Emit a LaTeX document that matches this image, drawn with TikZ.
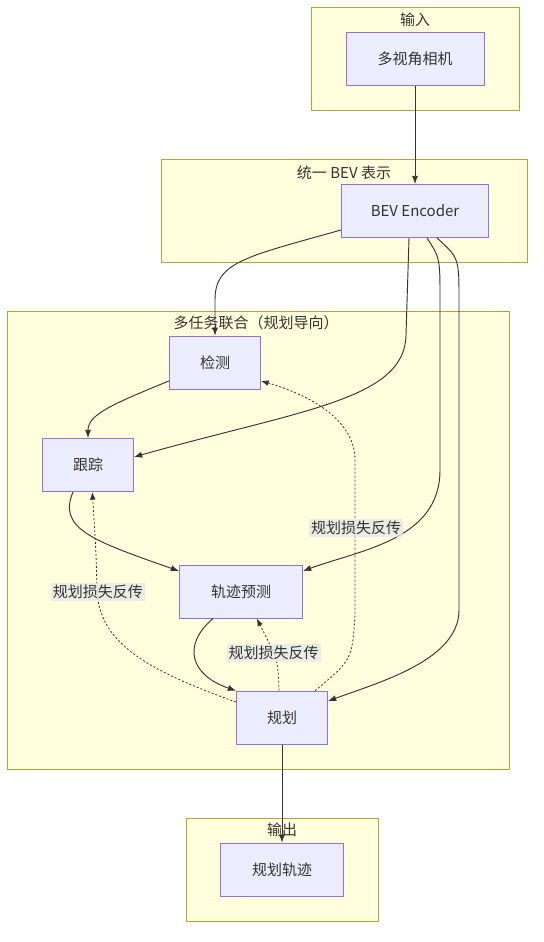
\documentclass[tikz,border=0pt]{standalone}
\usepackage{fontspec}
\setmainfont{Noto Sans CJK SC}
\usetikzlibrary{arrows.meta}
\definecolor{groupfill}{HTML}{FFFFDE}
\definecolor{groupline}{HTML}{AAAA33}
\definecolor{boxfill}{HTML}{ECECFF}
\definecolor{boxline}{HTML}{9370DB}
\definecolor{inkgray}{HTML}{333333}
\definecolor{tagfill}{RGB}{232,232,232}

\begin{document}
\begin{tikzpicture}[x=0.75pt, y=-0.75pt, >=Latex,
    every node/.style={font=\fontsize{11.25}{14}\selectfont, text=inkgray},
    group/.style={draw=groupline, fill=groupfill, line width=0.75pt},
    box/.style={draw=boxline, fill=boxfill, line width=0.75pt, minimum height=39.75pt},
    flow/.style={->, draw=inkgray, line width=0.7pt},
    back/.style={->, draw=inkgray, line width=0.6pt, dash pattern=on 1.5pt off 1.5pt},
    tag/.style={fill=tagfill, fill opacity=0.8, text opacity=1, inner sep=1.5pt}]
    \useasboundingbox[fill=white] (0,0) rectangle (543,942);

    % subgraphs
    \draw[group] (311.5,7.5) rectangle (519,110);
    \draw[group] (161,159) rectangle (527,262);
    \draw[group] (7.5,311) rectangle (509,769);
    \draw[group] (186.5,818) rectangle (378,921);
    \node (tIn) at (415,20) {输入};
    \node (tBev) at (344,172.5) {统一 BEV 表示};
    \node (tMulti) at (256,323) {多任务联合（规划导向）};
    \node (tOut) at (282,830) {输出};

    % nodes
    \node[box, minimum width=103.5pt] (cam) at (415,59) {多视角相机};
    \node[box, minimum width=110.25pt] (bev) at (415,211) {BEV Encoder};
    \node[box, minimum width=68.25pt] (det) at (215,362.7) {检测};
    \node[box, minimum width=68.25pt] (trk) at (88,465) {跟踪};
    \node[box, minimum width=92.25pt] (pred) at (241,591.5) {轨迹预测};
    \node[box, minimum width=68.25pt] (plan) at (282,717.7) {规划};
    \node[box, minimum width=92pt] (traj) at (282,869.7) {规划轨迹};

    % forward edges
    \draw[flow] (cam) -- (bev);
    \draw[flow] ([yshift=-14.25pt]bev.west) .. controls (245,257) and (215,262) .. (215,300) -- (det.north);
    \draw[flow] ([xshift=-4.5pt]bev.south) -- (406,335)
      .. controls (405,400) and (300,410) .. ([yshift=6pt]trk.east);
    \draw[flow] ([xshift=9pt]bev.south) .. controls (440,258) .. (440,300) -- (440,470)
      .. controls (440,540) and (360,550) .. ([yshift=15.4pt]pred.east);
    \draw[flow] ([xshift=16.5pt]bev.south) .. controls (459,258) .. (459,300) -- (459,610)
      .. controls (459,660) and (380,682) .. ([yshift=12.5pt]plan.east);
    \draw[flow] ([yshift=-13.7pt]det.west) .. controls (110,405) and (88,415) .. (trk.north);
    \draw[flow] ([xshift=-11.25pt]trk.south) .. controls (58,528) and (90,540) .. ([yshift=15.4pt]pred.west);
    \draw[flow] ([xshift=-21pt]pred.south) .. controls (182,645) and (190,675) .. (plan.north west);
    \draw[flow] (plan) -- (traj);

    % planning loss feedback
    \draw[back] ([yshift=11.8pt]plan.west) .. controls (140,668) and (99,640) .. (97,590)
      .. controls (96,550) .. ([xshift=3.2pt]trk.south);
    \draw[back] ([xshift=-2.25pt]plan.north) .. controls (278,660) .. ([xshift=11.8pt]pred.south);
    \draw[back] ([xshift=24.75pt]plan.north) .. controls (352,660) .. (355,615) -- (355,460)
      .. controls (355,420) and (310,395) .. ([yshift=-13.7pt]det.east);

    \node[tag] (lTrk) at (97.8,592) {规划损失反传};
    \node[tag] (lPred) at (273.6,653.3) {规划损失反传};
    \node[tag] (lDet) at (356,528.3) {规划损失反传};
  \end{tikzpicture}
\end{document}
